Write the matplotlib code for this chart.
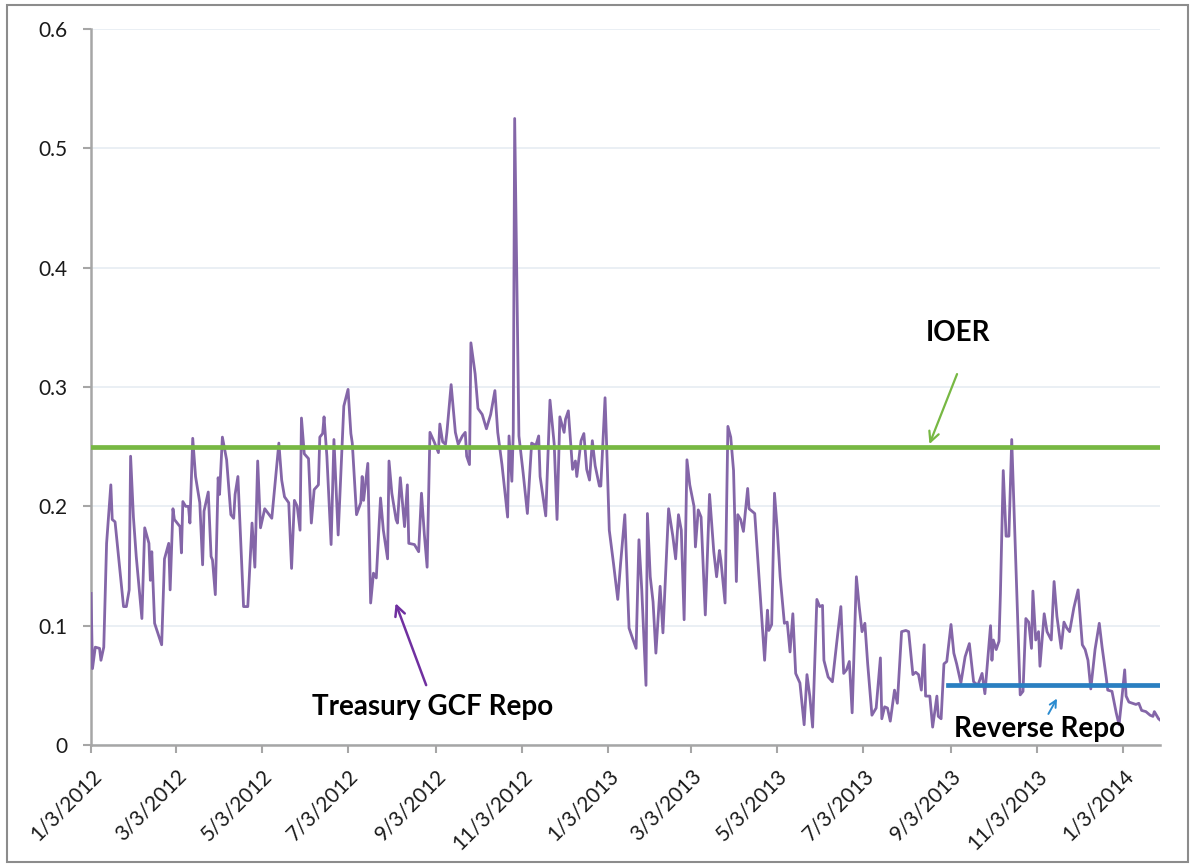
import numpy as np
import pandas as pd
import matplotlib
matplotlib.use('Agg')
import matplotlib.pyplot as plt
import matplotlib.dates as mdates
from matplotlib.patches import Rectangle

plt.rcParams['font.family'] = ['Lato', 'DejaVu Sans']

# Treasury GCF repo rate, days counted from 1/3/2012
days = [0, 1, 3, 6, 7, 9, 11, 14, 15, 17, 23, 25, 27, 28, 30, 32, 36, 38, 41, 42,
        43, 45, 50, 52, 55, 56, 58, 59, 63, 64, 65, 67, 69, 70, 72, 74, 77, 79, 80, 83,
        85, 86, 88, 90, 91, 93, 96, 99, 101, 102, 104, 108, 111, 114, 116, 118, 120, 123,
        128, 133, 135, 137, 140, 142, 144, 146, 148, 149, 151, 154, 156, 158, 161, 162, 164, 165,
        167, 170, 172, 175, 179, 182, 184, 185, 188, 191, 192, 193, 196, 198, 200, 202, 205, 207,
        210, 211, 213, 216, 217, 219, 222, 224, 225, 229, 232, 234, 236, 238,
        240, 243, 246, 247, 249, 251, 252, 255, 258, 260, 263, 265, 266, 268, 269, 272, 274, 277,
        280, 283, 286, 288, 291, 295, 296, 298, 299, 300, 303, 306, 309, 312, 315, 317, 318, 322,
        325, 328, 330, 332, 335, 336, 338, 341, 343, 344, 347, 349, 351, 353, 355, 357, 360, 361,
        364, 365, 367, 370, 373, 375, 378, 381, 383, 386, 388, 390, 393, 394, 396, 398, 400, 403,
        405, 409, 412, 414, 416, 418, 420, 422, 424, 427, 428, 430, 432, 435, 438, 441, 443, 445,
        446, 449, 451, 453, 455, 457, 458, 460, 462, 465, 466, 470, 477, 479, 480, 482, 484, 486, 488,
        491, 493, 495, 497, 499, 502, 505, 507, 509, 511, 514, 516, 518, 519, 522, 525, 528, 531,
        533, 535, 537, 539, 542, 544, 546, 548, 550, 553, 556, 559, 560, 562, 564, 566, 569, 571,
        574, 577, 579, 582, 584, 586, 588, 590, 591, 594, 596, 599, 600, 602, 604, 606, 609, 611,
        613, 616, 619, 622, 625,
        628, 631, 633, 635, 637, 638, 639, 641, 643, 644, 646, 648, 650, 652, 658, 660, 662, 664,
        666, 667, 669, 671, 672, 675, 677, 680, 682, 684, 687, 689, 691, 693, 696, 699, 702, 704,
        706, 708, 711, 714, 716, 719, 720, 723, 726, 728, 730, 732, 733, 735, 740, 742, 744, 747,
        750, 752, 753, 756, 757]
gcf = [.127, .064, .082, .081, .071, .082, .169, .218, .189, .187, .116, .116, .130, .242, .191, .158, .106, .182, .169, .138,
       .162, .102, .084, .156, .169, .130, .198, .189, .183, .161, .204, .200, .200, .186, .257, .225, .203, .151, .196, .212,
       .158, .155, .126, .224, .210, .258, .239, .193, .190, .210, .225, .116, .116, .186, .149, .238, .182, .198,
       .190, .253, .222, .208, .203, .148, .205, .200, .180, .274, .244, .240, .186, .214, .218, .258, .261, .275,
       .242, .168, .256, .176, .284, .298, .261, .253, .193, .203, .225, .205, .236, .119, .144, .140, .207, .180,
       .156, .238, .211, .189, .186, .224, .183, .218, .169, .168, .162, .211, .177, .149,
       .262, .254, .245, .269, .254, .252, .262, .302, .262, .252, .259, .262, .242, .235, .337, .311, .282, .277,
       .265, .277, .297, .262, .235, .191, .259, .221, .262, .525, .259, .228, .194, .253, .251, .259, .225, .192,
       .289, .252, .189, .275, .262, .273, .280, .231, .238, .225, .255, .261, .231, .222, .255, .234, .217, .217,
       .291, .256, .180, .152, .122, .152, .193, .098, .091, .081, .172, .130, .050, .194, .141, .120, .077, .133,
       .094, .198, .175, .156, .193, .180, .105, .239, .218, .200, .166, .197, .191, .109, .210, .162, .141, .163,
       .155, .119, .267, .258, .230, .137, .193, .189, .179, .215, .198, .194, .071, .113, .096, .101, .211, .180, .141,
       .102, .103, .078, .110, .060, .052, .017, .059, .041, .015, .122, .116, .117, .071, .057, .053, .085, .116,
       .060, .063, .070, .027, .141, .116, .095, .102, .068, .025, .031, .073, .022, .032, .031, .020, .046, .035,
       .095, .096, .095, .059, .061, .059, .046, .084, .041, .041, .015, .041, .024, .022, .068, .070, .101, .077,
       .068, .052, .074, .085, .053,
       .050, .060, .043, .071, .100, .071, .088, .080, .087, .127, .230, .175, .175, .256, .042, .045, .106, .103,
       .081, .129, .088, .095, .066, .110, .095, .088, .137, .108, .081, .103, .098, .095, .115, .130, .084, .080,
       .071, .047, .080, .102, .082, .056, .046, .045, .027, .017, .039, .063, .041, .036, .034, .035, .029, .028,
       .025, .024, .028, .022, .021]

ioer_dates = ['2012-01-03', '2014-01-29']
ioer_rate = [0.25, 0.25]
rrp_dates = ['2013-09-01', '2014-01-29']
rrp_rate = [0.05, 0.05]

tick_labels = ['1/3/2012', '3/3/2012', '5/3/2012', '7/3/2012', '9/3/2012', '11/3/2012', '1/3/2013',
               '3/3/2013', '5/3/2013', '7/3/2013', '9/3/2013', '11/3/2013', '1/3/2014']

start = pd.Timestamp('2012-01-03')
dates = start + pd.to_timedelta(days, unit='D')
tick_dates = pd.to_datetime(tick_labels, format='%m/%d/%Y')

fig = plt.figure(figsize=(11.95, 8.65), dpi=100)
ax = fig.add_axes([0.0762, 0.1387, 0.8945, 0.8278])

ax.plot(dates, gcf, color='#8466a8', lw=2.0, zorder=3)
ax.plot(pd.to_datetime(ioer_dates), ioer_rate, color='#77b843', lw=3.4, zorder=4)
ax.plot(pd.to_datetime(rrp_dates), rrp_rate, color='#2a7fc1', lw=3.4, zorder=4)

ax.set_xlim(start, pd.Timestamp('2014-01-29'))
ax.set_ylim(0, 0.6)
ax.set_yticks(np.arange(0, 0.61, 0.1))
ax.set_yticklabels(['0', '0.1', '0.2', '0.3', '0.4', '0.5', '0.6'])
ax.set_xticks(tick_dates)
ax.set_xticklabels(tick_labels, rotation=45, ha='right', rotation_mode='anchor')

ax.grid(axis='y', color='#e6ecf2', lw=1.2, zorder=0)
for s in ['top', 'right']:
    ax.spines[s].set_visible(False)
for s in ['left', 'bottom']:
    ax.spines[s].set_color('#a6a6a6')
    ax.spines[s].set_linewidth(1.8)
ax.tick_params(axis='y', direction='out', length=6, width=1.5, color='#a6a6a6', pad=11,
               labelsize=15, labelcolor='#1a1a1a')
ax.tick_params(axis='x', direction='out', length=6, width=1.5, color='#a6a6a6', pad=9,
               labelsize=15, labelcolor='#1a1a1a')

# annotations
d = mdates.date2num
ax.text(d(pd.Timestamp('2013-09-08')), 0.345, 'IOER', fontsize=20, fontweight='bold',
        ha='center', va='center')
ax.annotate('', xy=(d(pd.Timestamp('2013-08-18')), 0.25), xytext=(d(pd.Timestamp('2013-09-08')), 0.313),
            arrowprops=dict(arrowstyle='->', color='#77b843', lw=1.6, mutation_scale=18))

ax.text(d(pd.Timestamp('2012-09-01')), 0.032, 'Treasury GCF Repo', fontsize=20, fontweight='bold',
        ha='center', va='center')
ax.annotate('', xy=(d(pd.Timestamp('2012-08-05')), 0.121), xytext=(d(pd.Timestamp('2012-08-28')), 0.048),
            arrowprops=dict(arrowstyle='->', color='#7030a0', lw=1.8, mutation_scale=18))

ax.text(d(pd.Timestamp('2013-11-05')), 0.0134, 'Reverse Repo', fontsize=20, fontweight='bold',
        ha='center', va='center')
ax.annotate('', xy=(d(pd.Timestamp('2013-11-18')), 0.041), xytext=(d(pd.Timestamp('2013-11-10')), 0.024),
            arrowprops=dict(arrowstyle='->', color='#2a8bd0', lw=1.4, mutation_scale=12))

fig.patches.append(Rectangle((0.006, 0.004), 0.988, 0.99, transform=fig.transFigure,
                             fill=False, edgecolor='#8c8c8c', lw=1.5))

fig.savefig('out.png', dpi=100)
